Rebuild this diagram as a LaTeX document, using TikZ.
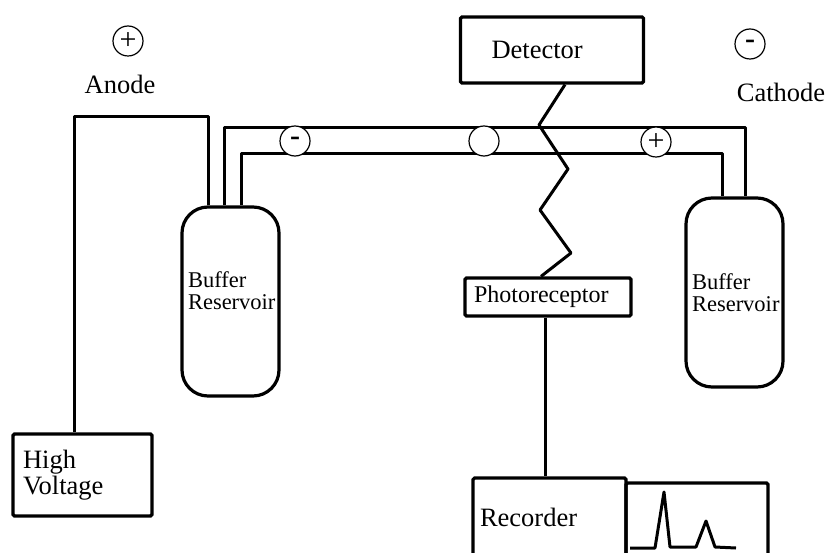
\documentclass[tikz,border=0pt]{standalone}
\usepackage{fontspec}
\setmainfont{Liberation Serif}
\newcommand{\bigtext}{\fontsize{26.5}{26}\selectfont}
\newcommand{\midtext}{\fontsize{24}{24}\selectfont}
\newcommand{\smalltext}{\fontsize{22.5}{22}\selectfont}
\newcommand{\polemark}{\fontsize{30}{30}\selectfont}
\tikzset{
  wire/.style={line width=3pt, line join=round},
  unitbox/.style={draw, line width=3.2pt, rounded corners=1.5pt, align=left, font=\bigtext},
  reservoir/.style={draw, line width=3.2pt, rounded corners=26pt, minimum width=97pt, minimum height=189pt},
  bufferlabel/.style={align=left, inner sep=0pt, text width=88pt, font=\smalltext},
  pole/.style={circle, draw, line width=1.2pt, fill=white, minimum size=30pt, inner sep=0pt, font=\polemark}
}
\begin{document}
\begin{tikzpicture}[x=1pt, y=-1pt]
  \useasboundingbox (0,0) rectangle (826,553);
  \clip (0,0) rectangle (826,553);

  \node[pole] (anodepole) at (128,41) {+};
  \node[font=\bigtext] (anode) at (120,84) {Anode};
  \node[pole] (cathodepole) at (750,44) {\textbf{-}};
  \node[font=\bigtext] (cathode) at (781,92) {Cathode};

  \node[unitbox, minimum width=183pt, minimum height=66pt, text width=121pt, inner xsep=31pt] (detector) at (552,50) {Detector};
  \node[unitbox, font=\midtext, minimum width=166pt, minimum height=38pt, text width=148pt, inner xsep=9pt] (photo) at (548,297) {Photoreceptor};
  \node[unitbox, minimum width=139pt, minimum height=82pt, text width=119pt, inner xsep=10pt] (hv) at (82.5,475) {High\\Voltage};
  \node[unitbox, minimum width=153pt, minimum height=78pt, text width=139pt, inner xsep=7pt] (recorder) at (549.5,517) {Recorder};
  \node[unitbox, minimum width=142pt, minimum height=73pt] (graph) at (697,519.5) {};

  \node[reservoir] (resleft) at (230.5,301.5) {};
  \node[bufferlabel] (bufleft) at (232,291) {\baselineskip=22pt Buffer\\Reservoir};
  \node[reservoir] (resright) at (734.5,292.5) {};
  \node[bufferlabel] (bufright) at (736,293) {\baselineskip=22pt Buffer\\Reservoir};

  \coordinate (wireA) at (74,117);
  \coordinate (wireB) at (208,117);
  \draw[wire] (hv.north -| wireA) -- (wireA) -- (wireB) -- (resleft.north -| wireB);

  \coordinate (capA) at (224,128);
  \coordinate (capB) at (745,128);
  \coordinate (capC) at (241,154);
  \coordinate (capD) at (722,154);
  \draw[wire] (resleft.north -| capA) -- (capA) -- (capB) -- (resright.north -| capB);
  \draw[wire] (resleft.north -| capC) -- (capC) -- (capD) -- (resright.north -| capD);

  \node[pole] (capminus) at (295,141) {\textbf{-}};
  \node[pole] (capwindow) at (484,141) {};
  \node[pole] (capplus) at (656,142) {+};

  \coordinate (zigA) at (565,83);
  \coordinate (zigB) at (539,125);
  \coordinate (zigC) at (568,169);
  \coordinate (zigD) at (540,210);
  \coordinate (zigE) at (571,253);
  \coordinate (zigF) at (541,278);
  \draw[wire] (detector.south -| zigA) -- (zigB) -- (zigC) -- (zigD) -- (zigE) -- (photo.north -| zigF);

  \coordinate (link) at (545,400);
  \draw[wire] (photo.south -| link) -- (recorder.north -| link);

  \draw[wire] (630,548) -- (655,548) -- (664,492) -- (670,547) -- (696,547) -- (706,521) -- (715,547) -- (736,548);
\end{tikzpicture}
\end{document}
